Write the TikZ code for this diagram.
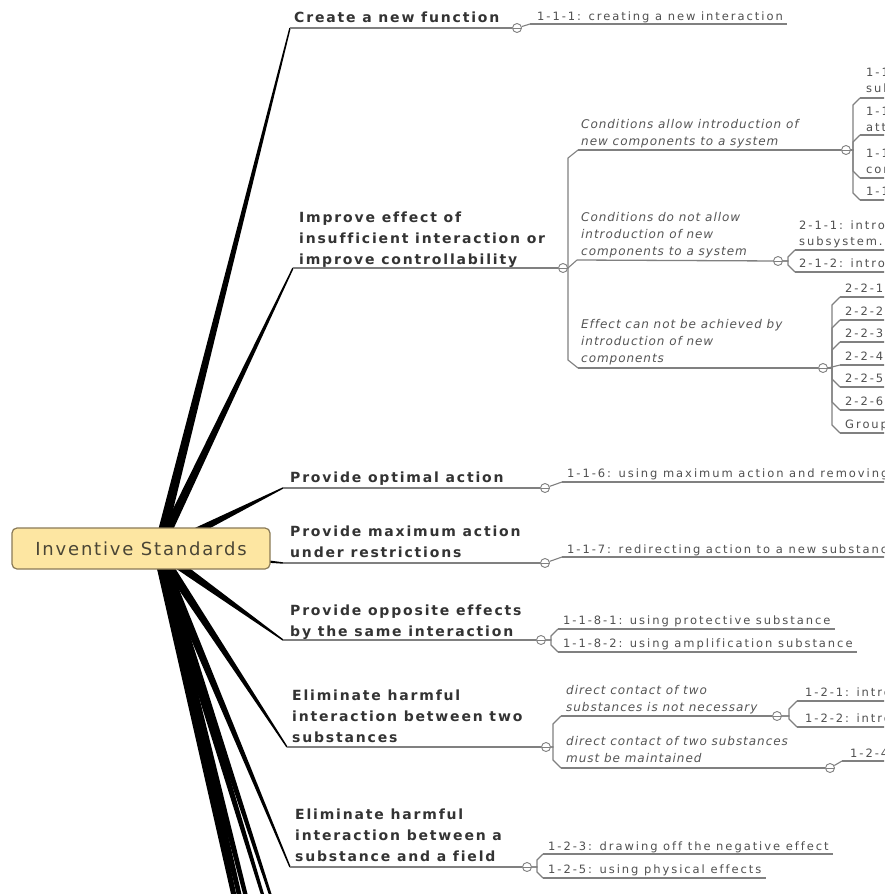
\documentclass[tikz,border=0pt]{standalone}
\usepackage{fontspec}
\usetikzlibrary{calc}

\newfontfamily\famRoot[LetterSpace=10,Ligatures=NoCommon]{DejaVu Sans}
\newfontfamily\famTopic[LetterSpace=13,Ligatures=NoCommon]{DejaVu Sans}
\newfontfamily\famSub[LetterSpace=8,Ligatures=NoCommon]{DejaVu Sans}
\newfontfamily\famLeaf[LetterSpace=17,Ligatures=NoCommon]{DejaVu Sans}

\newcommand\fRoot{\famRoot\fontsize{18}{22}\selectfont}
\newcommand\fTopic{\famTopic\bfseries\fontsize{14}{21}\selectfont}
\newcommand\fSub{\famSub\itshape\fontsize{12}{17}\selectfont}
\newcommand\fLeaf{\famLeaf\fontsize{11.5}{16}\selectfont}
% left-aligned lines; the box baseline is the baseline of the last line
\newcommand\mlines[1]{\vbox{\halign{##\hfil\cr#1\crcr}}}

\definecolor{ulgray}{HTML}{808080}
\definecolor{topictext}{HTML}{333333}
\definecolor{subtext}{HTML}{555555}
\definecolor{leaftext}{HTML}{505050}
\definecolor{rootfill}{HTML}{FDE6A2}
\definecolor{rootdraw}{HTML}{8A7A57}
\definecolor{roottext}{HTML}{4A4535}

\pgfdeclarelayer{paper}
\pgfdeclarelayer{background}
\pgfsetlayers{paper,background,main}

% tapered branch from the hub to the start of a topic underline
\newcommand\taperbranch[2]{%
  \fill[black] ($(#1)!5pt!90:(#2)$) -- ($(#2)!0.7pt!-90:(#1)$)
    -- ($(#2)!0.7pt!90:(#1)$) -- ($(#1)!5pt!-90:(#2)$) -- cycle;}

\begin{document}
\begin{tikzpicture}[x=1pt,y=-1pt,
  rootbox/.style={draw=rootdraw, fill=rootfill, line width=1.2pt, rounded corners=5pt,
    minimum width=258pt, minimum height=41pt, inner sep=0pt, text=roottext, font=\fRoot},
  topicnode/.style={anchor=base west, inner sep=0pt, text=topictext, font=\fTopic},
  subnode/.style={anchor=base west, inner sep=0pt, text=subtext, font=\fSub},
  leafnode/.style={anchor=base west, inner sep=0pt, text=leaftext, font=\fLeaf},
  uline/.style={draw=ulgray, line width=1.3pt},
  conn/.style={draw=ulgray, line width=1.1pt},
  foldmark/.style={circle, draw=ulgray, fill=white, line width=0.9pt, minimum size=9pt,
    inner sep=0pt, path picture={\draw[ulgray, line width=0.9pt]
      (path picture bounding box.west) -- (path picture bounding box.east);}}]

\useasboundingbox (0,0) rectangle (884,894);
\begin{pgfonlayer}{paper}
  \fill[white] (0,0) rectangle (884,894);
\end{pgfonlayer}
\clip (0,0) rectangle (884,894);

% central topic
\node[rootbox] (root) at (141,548.5) {Inventive Standards};
\coordinate (hub) at ($(root.center)+(17,2)$);

% ---------- Create a new function
\coordinate (m1s) at (290,28);
\node[topicnode] (m1) at (294,23) {Create a new function};
\node[foldmark] (m1f) at (517,28) {};
\draw[uline] (m1s) -- (m1f);
\coordinate (l111s) at (530,24);
\node[leafnode] (l111) at (537,20) {1-1-1: creating a new interaction};
\draw[uline] (l111s) -- ($(l111s -| l111.east)+(4,0)$);
\draw[conn] (m1f) -- (l111s);

% ---------- Improve effect
\coordinate (m2s) at (293,268);
\node[topicnode] (m2) at (299,264) {\mlines{Improve effect of\cr insufficient interaction or\cr improve controllability}};
\node[foldmark] (m2f) at (563,268) {};
\draw[uline] (m2s) -- (m2f);

\coordinate (sas) at (578,150);
\node[subnode] (sa) at (581,145) {\mlines{Conditions allow introduction of\cr new components to a system}};
\node[foldmark] (saf) at (846,150) {};
\draw[uline] (sas) -- (saf);
\draw[conn] (m2f.east) -| ($(sas)+(-10,8)$) -- (sas);

\coordinate (la1s) at (860,98);
\node[leafnode] (la1) at (866,92) {\mlines{1-1-2: introducing an additive into a\cr substance}};
\coordinate (la2s) at (860,135);
\node[leafnode] (la2) at (866,131) {\mlines{1-1-3: introducing an external additive\cr attached to a substance}};
\coordinate (la3s) at (860,178);
\node[leafnode] (la3) at (866,173) {\mlines{1-1-4: using the environment as a\cr component}};
\coordinate (la4s) at (860,200);
\node[leafnode] (la4) at (866,195) {1-1-5: changing the environment};
\foreach \n in {la1,la2,la3,la4} \draw[uline] (\n s) -- ($(\n s -| \n.east)+(4,0)$);
\draw[conn] (saf.east) -| ($(la1s)+(-7,7)$) -- (la1s);
\draw[conn] (saf.east) -| ($(la2s)+(-7,7)$) -- (la2s);
\draw[conn] (saf.east) -| ($(la3s)+(-7,-7)$) -- (la3s);
\draw[conn] (saf.east) -| ($(la4s)+(-7,-7)$) -- (la4s);

\coordinate (sbs) at (577,260);
\node[subnode] (sb) at (581,255) {\mlines{Conditions do not allow\cr introduction of new\cr components to a system}};
\node[foldmark] (sbf) at (778,261) {};
\draw[uline] (sbs) -- (sbf);
\draw[conn] (m2f.east) -- (sbs);

\coordinate (lb1s) at (795,250);
\node[leafnode] (lb1) at (799,245) {\mlines{2-1-1: introducing a new su-field\cr subsystem.}};
\coordinate (lb2s) at (795,272);
\node[leafnode] (lb2) at (799,267) {2-1-2: introducing a double su-field};
\foreach \n in {lb1,lb2} \draw[uline] (\n s) -- ($(\n s -| \n.east)+(4,0)$);
\draw[conn] (sbf.east) -| ($(lb1s)+(-7,7)$) -- (lb1s);
\draw[conn] (sbf.east) -| ($(lb2s)+(-7,-7)$) -- (lb2s);

\coordinate (scs) at (578,368);
\node[subnode] (sc) at (581,362) {\mlines{Effect can not be achieved by\cr introduction of new\cr components}};
\node[foldmark] (scf) at (823,368) {};
\draw[uline] (scs) -- (scf);
\draw[conn] (m2f.east) -| ($(scs)+(-10,-8)$) -- (scs);

\coordinate (lc1s) at (840,297);
\node[leafnode] (lc1) at (845,292) {2-2-1: transition to more controllable fields};
\coordinate (lc2s) at (840,320);
\node[leafnode] (lc2) at (845,315) {2-2-2: fragmentation of a tool};
\coordinate (lc3s) at (840,342);
\node[leafnode] (lc3) at (845,337) {2-2-3: transition to capillary-porous substances};
\coordinate (lc4s) at (840,365);
\node[leafnode] (lc4) at (845,360) {2-2-4: increasing dynamism};
\coordinate (lc5s) at (840,387);
\node[leafnode] (lc5) at (845,382) {2-2-5: structuring fields};
\coordinate (lc6s) at (840,410);
\node[leafnode] (lc6) at (845,405) {2-2-6: structuring substances};
\coordinate (lc7s) at (840,433);
\node[leafnode] (lc7) at (845,428) {Group 2-3: coordinating rhythms};
\foreach \n in {lc1,lc2,lc3,lc4,lc5,lc6,lc7} \draw[uline] (\n s) -- ($(\n s -| \n.east)+(4,0)$);
\foreach \n in {lc1,lc2,lc3} \draw[conn] (scf.east) -| ($(\n s)+(-8,8)$) -- (\n s);
\draw[conn] (scf.east) -- (lc4s);
\foreach \n in {lc5,lc6,lc7} \draw[conn] (scf.east) -| ($(\n s)+(-8,-8)$) -- (\n s);

% ---------- Provide optimal action
\coordinate (m3s) at (283,488);
\node[topicnode] (m3) at (290,482) {Provide optimal action};
\node[foldmark] (m3f) at (545,488) {};
\draw[uline] (m3s) -- (m3f);
\coordinate (l116s) at (562,482);
\node[leafnode] (l116) at (567,477) {1-1-6: using maximum action and removing the excess};
\draw[uline] (l116s) -- ($(l116s -| l116.east)+(4,0)$);
\draw[conn] (m3f) -- (l116s);

% ---------- Provide maximum action
\coordinate (m4s) at (283,563);
\node[topicnode] (m4) at (290,557) {\mlines{Provide maximum action\cr under restrictions}};
\node[foldmark] (m4f) at (545,563) {};
\draw[uline] (m4s) -- (m4f);
\coordinate (l117s) at (562,557);
\node[leafnode] (l117) at (567,553) {1-1-7: redirecting action to a new substance};
\draw[uline] (l117s) -- ($(l117s -| l117.east)+(4,0)$);
\draw[conn] (m4f) -- (l117s);

% ---------- Provide opposite effects
\coordinate (m5s) at (283,640);
\node[topicnode] (m5) at (290,636) {\mlines{Provide opposite effects\cr by the same interaction}};
\node[foldmark] (m5f) at (541,640) {};
\draw[uline] (m5s) -- (m5f);
\coordinate (l1181s) at (558,629);
\node[leafnode] (l1181) at (563,624) {1-1-8-1: using protective substance};
\coordinate (l1182s) at (558,652);
\node[leafnode] (l1182) at (563,647) {1-1-8-2: using amplification substance};
\foreach \n in {l1181,l1182} \draw[uline] (\n s) -- ($(\n s -| \n.east)+(4,0)$);
\draw[conn] (m5f.east) -| ($(l1181s)+(-7,7)$) -- (l1181s);
\draw[conn] (m5f.east) -| ($(l1182s)+(-7,-7)$) -- (l1182s);

% ---------- Eliminate harmful interaction between two substances
\coordinate (m6s) at (287,747);
\node[topicnode] (m6) at (292,742) {\mlines{Eliminate harmful\cr interaction between two\cr substances}};
\node[foldmark] (m6f) at (546,747) {};
\draw[uline] (m6s) -- (m6f);

\coordinate (s6as) at (561,716);
\node[subnode] (s6a) at (566,711) {\mlines{direct contact of two\cr substances is not necessary}};
\node[foldmark] (s6af) at (777,716) {};
\draw[uline] (s6as) -- (s6af);
\draw[conn] (m6f.east) -| ($(s6as)+(-8,8)$) -- (s6as);
\coordinate (l121s) at (797,701);
\node[leafnode] (l121) at (805,696) {1-2-1: introducing a foreign substance};
\coordinate (l122s) at (797,727);
\node[leafnode] (l122) at (805,722) {1-2-2: introducing a modified substance};
\foreach \n in {l121,l122} \draw[uline] (\n s) -- ($(\n s -| \n.east)+(4,0)$);
\draw[conn] (s6af.east) -| ($(l121s)+(-8,8)$) -- (l121s);
\draw[conn] (s6af.east) -| ($(l122s)+(-8,-8)$) -- (l122s);

\coordinate (s6bs) at (561,768);
\node[subnode] (s6b) at (566,762) {\mlines{direct contact of two substances\cr must be maintained}};
\node[foldmark] (s6bf) at (830,768) {};
\draw[uline] (s6bs) -- (s6bf);
\draw[conn] (m6f.east) -| ($(s6bs)+(-8,-8)$) -- (s6bs);
\coordinate (l124s) at (842,761);
\node[leafnode] (l124) at (850,757) {1-2-4: counteracting by a field};
\draw[uline] (l124s) -- ($(l124s -| l124.east)+(4,0)$);
\draw[conn] (s6bf) -- (l124s);

% ---------- Eliminate harmful interaction between a substance and a field
\coordinate (m7s) at (290,867);
\node[topicnode] (m7) at (295,861) {\mlines{Eliminate harmful\cr interaction between a\cr substance and a field}};
\node[foldmark] (m7f) at (527,867) {};
\draw[uline] (m7s) -- (m7f);
\coordinate (l123s) at (543,854);
\node[leafnode] (l123) at (548,850) {1-2-3: drawing off the negative effect};
\coordinate (l125s) at (543,878);
\node[leafnode] (l125) at (548,873) {1-2-5: using physical effects};
\foreach \n in {l123,l125} \draw[uline] (\n s) -- ($(\n s -| \n.east)+(4,0)$);
\draw[conn] (m7f.east) -| ($(l123s)+(-6,6)$) -- (l123s);
\draw[conn] (m7f.east) -| ($(l125s)+(-6,-6)$) -- (l125s);

% topics further down the map
\coordinate (m8s) at (290,955);
\coordinate (m9s) at (290,985);
\coordinate (m10s) at (290,1070);
\coordinate (m11s) at (290,1110);
\coordinate (m12s) at (290,1150);

% branches from the central topic, behind it
\begin{pgfonlayer}{background}
  \foreach \t in {m1s,m2s,m3s,m4s,m5s,m6s,m7s,m8s,m9s,m10s,m11s,m12s}
    {\taperbranch{hub}{\t}}
\end{pgfonlayer}
\end{tikzpicture}
\end{document}
